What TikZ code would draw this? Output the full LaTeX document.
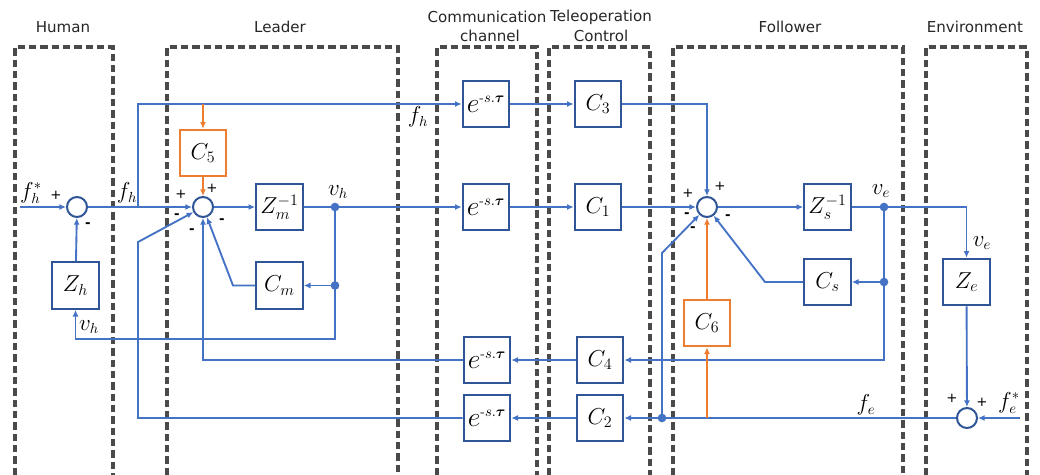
\documentclass[tikz,border=0pt]{standalone}
\usepackage{fontspec}
\usepackage{amsmath}
\usetikzlibrary{arrows.meta}
\newfontfamily\titlefont{DejaVu Sans}
\definecolor{lineblue}{HTML}{4472C4}
\definecolor{boxblue}{HTML}{2F5597}
\definecolor{orng}{HTML}{ED7D31}
\definecolor{dgray}{HTML}{4A4A4A}
\newcommand{\dly}{{\fontsize{21}{22}\selectfont$e^{\scriptscriptstyle\text{-}s.\boldsymbol{\tau}}$}}
\begin{document}
\begin{tikzpicture}[x=0.75pt,y=-0.75pt,
  blk/.style={draw=boxblue, line width=1.5pt, fill=white, minimum width=35pt, minimum height=35pt, inner sep=0pt, font=\fontsize{17}{19}\selectfont},
  oblk/.style={blk, draw=orng},
  sumc/.style={circle, draw=boxblue, line width=1.5pt, minimum size=15pt, inner sep=0pt, fill=white},
  conn/.style={draw=lineblue, line width=1.4pt},
  arr/.style={conn, -{Latex[length=5pt,width=4.5pt]}},
  oarr/.style={draw=orng, line width=1.4pt, -{Latex[length=5pt,width=4.5pt]}},
  dotn/.style={circle, fill=lineblue, minimum size=6.5pt, inner sep=0pt},
  dbox/.style={draw=dgray, line width=2.4pt, dash pattern=on 5.5pt off 3pt},
  ttl/.style={font=\titlefont\fontsize{11.3}{13}\selectfont, text=black!85},
  sgn/.style={font=\titlefont\fontsize{10}{11}\selectfont, inner sep=0pt},
  lbl/.style={font=\fontsize{16}{18}\selectfont, inner sep=0pt}
]
\useasboundingbox (0,0) rectangle (1040,475);
% dashed regions
\draw[dbox] (15,475) |- (113,47) -- (113,475);
\draw[dbox] (167,475) |- (398,47) -- (398,475);
\draw[dbox] (437,475) |- (537,47) -- (537,475);
\draw[dbox] (549,475) |- (650,47) -- (650,475);
\draw[dbox] (673,475) |- (903,47) -- (903,475);
\draw[dbox] (926,475) |- (1027,47) -- (1027,475);
% titles
\node[ttl] (tH) at (63,27) {Human};
\node[ttl] (tL) at (280,27) {Leader};
\node[ttl] (tC1) at (487,17) {Communication};
\node[ttl] (tC2) at (490,36) {channel};
\node[ttl] (tT1) at (601,17) {Teleoperation};
\node[ttl] (tT2) at (601,36) {Control};
\node[ttl] (tF) at (790,27) {Follower};
\node[ttl] (tE) at (975,27) {Environment};
% blocks
\node[sumc] (hs) at (77,207) {};
\node[sumc] (ls) at (203,207) {};
\node[sumc] (fs) at (707,207) {};
\node[sumc] (es) at (967,418) {};
\node[blk] (zh) at (75.5,285.5) {$Z_h$};
\node[oblk] (c5) at (203,153) {$C_5$};
\node[blk] (zm) at (279.5,207) {$Z_m^{-1}$};
\node[blk] (cm) at (279.5,285.5) {$C_m$};
\node[blk] (d1) at (486,104) {\dly};
\node[blk] (d2) at (486,207) {\dly};
\node[blk] (c3) at (598,104) {$C_3$};
\node[blk] (c1) at (598,207) {$C_1$};
\node[blk] (d3) at (487,360) {\dly};
\node[blk] (d4) at (487,418) {\dly};
\node[blk] (c4) at (600,360) {$C_4$};
\node[blk] (c2) at (600,418) {$C_2$};
\node[blk] (zs) at (827.5,207) {$Z_s^{-1}$};
\node[blk] (cs) at (827.5,282) {$C_s$};
\node[oblk] (c6) at (707,323) {$C_6$};
\node[blk] (ze) at (966.5,282) {$Z_e$};
% routing coordinates
\coordinate (in1) at (20,207);
\coordinate (in2) at (1020,418);
\coordinate (br1) at (138,207);
\coordinate (c5t) at (203,104);
\coordinate (vh) at (335,207);
\coordinate (vhc) at (335,285.5);
\coordinate (vhb) at (335,339);
\coordinate (cmk) at (233,285.5);
\coordinate (lk1) at (138,418);
\coordinate (lk2) at (138,242);
\coordinate (ve) at (884,207);
\coordinate (vec) at (884,282);
\coordinate (csk) at (765,282);
\coordinate (fed) at (662,418);
\coordinate (fk) at (662,253);
\coordinate (c6b) at (707,418);
% connectors
\draw[arr] (in1) -- (hs);
\draw[arr] (hs) -- (ls);
\draw[arr] (br1) |- (d1);
\draw[oarr] (c5t) -- (c5);
\draw[oarr] (c5) -- (ls);
\draw[arr] (ls) -- (zm);
\draw[arr] (zm) -- (d2);
\draw[arr] (vh) -- (vhb) -| (zh);
\draw[arr] (vhc) -- (cm);
\draw[arr] (cm) -- (cmk) -- (ls);
\draw[arr] (zh) -- (hs);
\draw[arr] (d3) -| (ls);
\draw[arr] (d4) -- (lk1) -- (lk2) -- (ls);
\draw[arr] (d1) -- (c3);
\draw[arr] (d2) -- (c1);
\draw[arr] (c3) -| (fs);
\draw[arr] (c1) -- (fs);
\draw[arr] (c4) -- (d3);
\draw[arr] (c2) -- (d4);
\draw[arr] (fs) -- (zs);
\draw[arr] (zs) -| (ze);
\draw[arr] (ve) |- (c4);
\draw[arr] (vec) -- (cs);
\draw[arr] (cs) -- (csk) -- (fs);
\draw[arr] (ze) -- (es);
\draw[arr] (in2) -- (es);
\draw[arr] (es) -- (c2);
\draw[arr] (fed) -- (fk) -- (fs);
\draw[oarr] (c6b) -- (c6);
\draw[oarr] (c6) -- (fs);
% junction dots
\node[dotn] (dvh) at (vh) {};
\node[dotn] (dvhc) at (vhc) {};
\node[dotn] (dve) at (ve) {};
\node[dotn] (dvec) at (vec) {};
\node[dotn] (dfe) at (fed) {};
% labels
\node[lbl] (lfhs) at (31,193) {$f_h^*$};
\node[lbl] (lfh1) at (127,193) {$f_h$};
\node[lbl] (lfh2) at (418,117) {$f_h$};
\node[lbl] (lvh1) at (338,192) {$v_h$};
\node[lbl] (lvh2) at (89,327) {$v_h$};
\node[lbl] (lve1) at (881,191) {$v_e$};
\node[lbl] (lve2) at (982,243) {$v_e$};
\node[lbl] (lfe) at (866,405) {$f_e$};
\node[lbl] (lfes) at (1009,403) {$f_e^*$};
% signs
\node[sgn] (s1) at (56,195) {+};
\node[sgn] (s2) at (88,225) {\textbf{-}};
\node[sgn] (s3) at (181,194) {+};
\node[sgn] (s4) at (212,188) {+};
\node[sgn] (s5) at (177,216) {\textbf{-}};
\node[sgn] (s6) at (192,231) {\textbf{-}};
\node[sgn] (s7) at (222,221) {\textbf{-}};
\node[sgn] (s8) at (688,193) {+};
\node[sgn] (s9) at (720,186) {+};
\node[sgn] (s10) at (687,215) {\textbf{-}};
\node[sgn] (s11) at (693,229) {\textbf{-}};
\node[sgn] (s12) at (728,217) {\textbf{-}};
\node[sgn] (s13) at (952,398) {+};
\node[sgn] (s14) at (982,402) {+};
\end{tikzpicture}
\end{document}
